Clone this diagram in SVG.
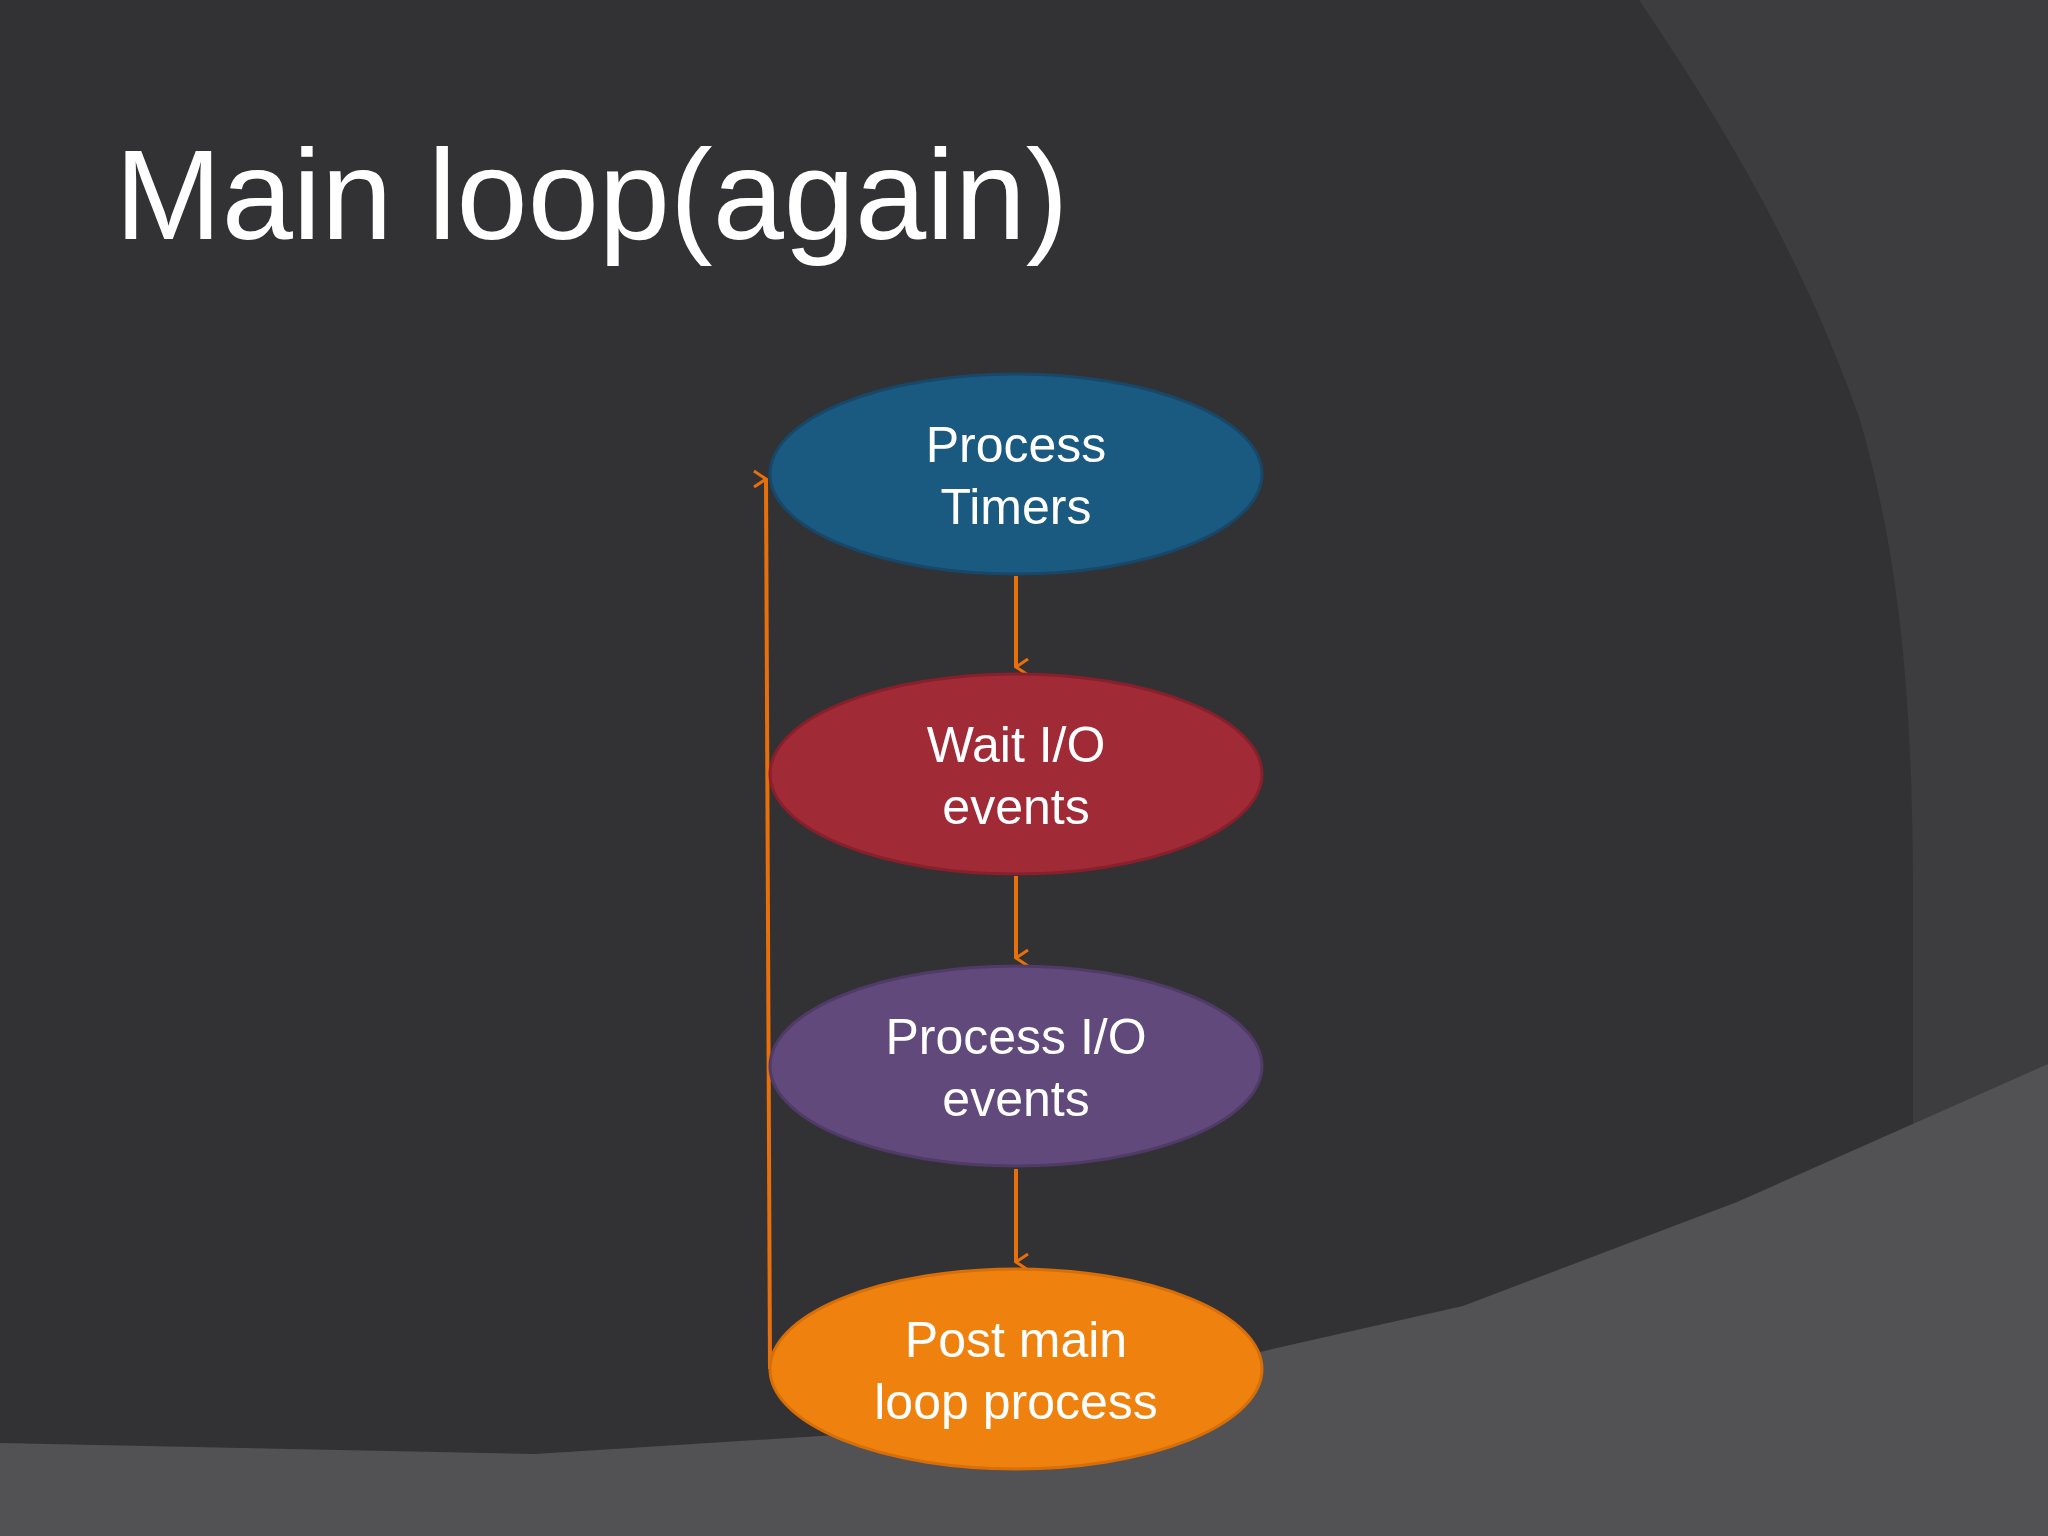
<svg xmlns="http://www.w3.org/2000/svg" width="2048" height="1536" viewBox="0 0 2048 1536">
<defs>
<style>
.t{font-family:"Liberation Sans",Arial,sans-serif;fill:#fff;text-anchor:middle;font-size:50px}
.c{stroke:#e8700c;stroke-width:4;fill:none}
</style>
<marker id="ah" markerWidth="20" markerHeight="20" refX="10" refY="18" orient="auto-start-reverse" markerUnits="userSpaceOnUse" viewBox="0 0 20 20"><path d="M2 6 L10 18 L18 6" stroke="#e8700c" stroke-width="3" fill="none"/></marker>
</defs>
<rect width="2048" height="1536" fill="#323234"/>
<path d="M1639 0 C1720 120 1800 250 1860 420 C1900 560 1913 700 1913 900 L1913 1536 L2048 1536 L2048 0 Z" fill="#3d3d3f"/>
<path d="M0 1443 L535 1454 L914 1430 L1463 1306 L1737 1202 L2048 1064 L2048 1536 L0 1536 Z" fill="#525254"/>
<text x="115" y="239" font-family="Liberation Sans,Arial,sans-serif" font-size="128" fill="#fff">Main loop(again)</text>
<g id="connectors">
<path class="c" d="M1016 576 V667" marker-end="url(#ah)"/>
<path class="c" d="M1016 876 V958" marker-end="url(#ah)"/>
<path class="c" d="M1016 1169 V1262" marker-end="url(#ah)"/>
<path class="c" d="M770 1369 L766 479" marker-end="url(#ah)"/>
</g>
<g id="n1"><ellipse cx="1016" cy="474" rx="246" ry="100" fill="#1b5a80" stroke="#17486a" stroke-width="3"/><text class="t" x="1016" y="462">Process</text><text class="t" x="1016" y="524">Timers</text></g>
<g id="n2"><ellipse cx="1016" cy="774" rx="246" ry="100" fill="#a12a37" stroke="#8a1f2c" stroke-width="3"/><text class="t" x="1016" y="762">Wait I/O</text><text class="t" x="1016" y="824">events</text></g>
<g id="n3"><ellipse cx="1016" cy="1066" rx="246" ry="100" fill="#614a7b" stroke="#4f3a68" stroke-width="3"/><text class="t" x="1016" y="1054">Process I/O</text><text class="t" x="1016" y="1116">events</text></g>
<g id="n4"><ellipse cx="1016" cy="1369" rx="246" ry="100" fill="#ef820e" stroke="#d86e08" stroke-width="3"/><text class="t" x="1016" y="1357">Post main</text><text class="t" x="1016" y="1419">loop process</text></g>
</svg>
